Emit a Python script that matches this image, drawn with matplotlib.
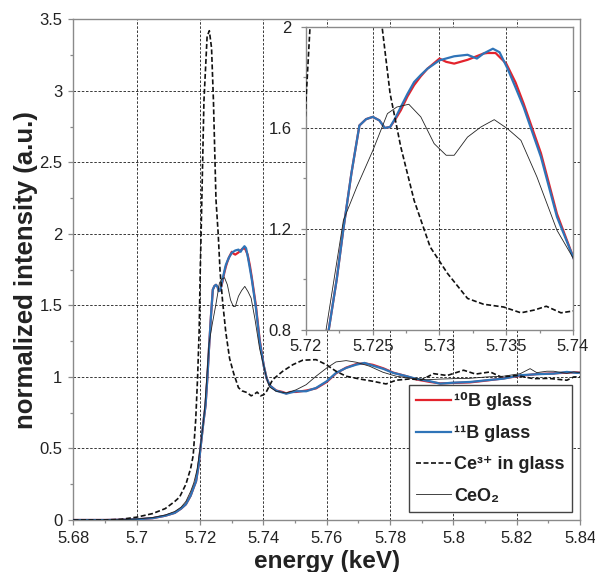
import matplotlib
matplotlib.use("Agg")
import matplotlib.pyplot as plt
from matplotlib.ticker import MultipleLocator

plt.rcParams['font.family'] = ['Liberation Sans', 'DejaVu Sans']

# ---------------- data ----------------
e_11b = [5.680, 5.690, 5.695, 5.700, 5.705, 5.709, 5.712, 5.714, 5.7155, 5.717, 5.718, 5.7187,
         5.7195, 5.7202, 5.721, 5.7217, 5.7223, 5.7228, 5.7234, 5.7240, 5.7245, 5.7250, 5.7255,
         5.7259, 5.7263, 5.7267, 5.7271, 5.7276, 5.7281, 5.7286, 5.7291, 5.7300, 5.7311, 5.7321,
         5.7328, 5.7333, 5.7340, 5.7345, 5.7351, 5.7357, 5.7363, 5.7376, 5.7388, 5.7401, 5.7410,
         5.7420, 5.7440, 5.7472, 5.7503, 5.7535, 5.7566, 5.7600, 5.7629, 5.7661, 5.7693, 5.7719,
         5.7745, 5.7779, 5.7810, 5.7852, 5.7884, 5.7926, 5.7958, 5.8000, 5.8053, 5.8105, 5.8158,
         5.8211, 5.8263, 5.8316, 5.8358, 5.8390, 5.8400]
i_11b = [0.0, 0.0, 0.002, 0.005, 0.013, 0.03, 0.05, 0.08, 0.11, 0.17, 0.23, 0.27,
         0.38, 0.52, 0.68, 0.80, 1.0, 1.20, 1.42, 1.61, 1.635, 1.644, 1.63,
         1.60, 1.604, 1.64, 1.683, 1.735, 1.782, 1.81, 1.835, 1.868, 1.884, 1.89,
         1.875, 1.895, 1.914, 1.90, 1.835, 1.76, 1.683, 1.485, 1.248, 1.077, 0.99,
         0.94, 0.904, 0.883, 0.90, 0.90, 0.923, 0.97, 1.028, 1.063, 1.086, 1.098,
         1.079, 1.056, 1.028, 1.005, 0.986, 0.97, 0.953, 0.96, 0.965, 0.977, 0.988,
         1.012, 1.019, 1.023, 1.035, 1.028, 1.03]

e_10b = [5.680, 5.690, 5.695, 5.700, 5.705, 5.709, 5.712, 5.714, 5.7155, 5.717, 5.718, 5.7187,
         5.7195, 5.7202, 5.721, 5.7217, 5.7223, 5.7228, 5.7234, 5.7240, 5.7245, 5.7250, 5.7255,
         5.7259, 5.7263, 5.7267, 5.7271, 5.7276, 5.7281, 5.7286, 5.7291, 5.7300, 5.7305, 5.7311,
         5.7321, 5.7333, 5.7336, 5.7342, 5.7350, 5.7357, 5.7363, 5.7376, 5.7388, 5.7401, 5.7410,
         5.7420, 5.7440, 5.7460, 5.7472, 5.7485, 5.7503, 5.7535, 5.7566, 5.7600, 5.7629, 5.7661,
         5.7693, 5.7719, 5.7745, 5.7779, 5.7810, 5.7852, 5.7884, 5.7926, 5.7958, 5.8000, 5.8053,
         5.8105, 5.8158, 5.8211, 5.8263, 5.8316, 5.8358, 5.8390, 5.8400]
i_10b = [0.0, 0.0, 0.002, 0.005, 0.013, 0.03, 0.05, 0.08, 0.11, 0.17, 0.23, 0.27,
         0.38, 0.52, 0.68, 0.80, 1.0, 1.20, 1.42, 1.61, 1.635, 1.644, 1.63,
         1.60, 1.604, 1.635, 1.67, 1.725, 1.77, 1.805, 1.835, 1.875, 1.862, 1.855,
         1.87, 1.895, 1.897, 1.897, 1.855, 1.78, 1.697, 1.50, 1.26, 1.077, 0.99,
         0.94, 0.905, 0.895, 0.885, 0.895, 0.895, 0.905, 0.92, 0.965, 1.025, 1.065,
         1.09, 1.095, 1.085, 1.06, 1.03, 1.005, 0.982, 0.965, 0.955, 0.958, 0.962,
         0.975, 0.99, 1.008, 1.02, 1.025, 1.03, 1.032, 1.03]

e_ce3 = [5.680, 5.690, 5.695, 5.700, 5.705, 5.709, 5.712, 5.7135, 5.7155, 5.717, 5.7178, 5.7186,
         5.7192, 5.7197, 5.7200, 5.7203, 5.7212, 5.7222, 5.7229, 5.7236, 5.7242, 5.7250, 5.7257,
         5.7263, 5.7271, 5.7281, 5.7293, 5.7306, 5.7321, 5.7333, 5.7348, 5.7361, 5.7371, 5.7380,
         5.7391, 5.7401, 5.7410, 5.7429, 5.7461, 5.7493, 5.7524, 5.7566, 5.7598, 5.7629, 5.7661,
         5.7703, 5.7745, 5.7787, 5.7819, 5.7861, 5.7900, 5.7937, 5.7980, 5.8032, 5.8070, 5.8116,
         5.8150, 5.8200, 5.8253, 5.8300, 5.8358, 5.8380, 5.8400]
i_ce3 = [0.0, 0.0, 0.005, 0.02, 0.045, 0.08, 0.13, 0.16, 0.25, 0.36, 0.45, 0.70,
         1.0, 1.33, 1.71, 2.0, 2.93, 3.38, 3.42, 3.30, 2.93, 2.24, 2.0,
         1.736, 1.525, 1.313, 1.129, 1.024, 0.925, 0.902, 0.891, 0.868, 0.879, 0.894,
         0.868, 0.876, 0.90, 0.981, 1.04, 1.086, 1.117, 1.121, 1.086, 1.04, 1.005,
         0.986, 0.97, 0.951, 0.977, 0.986, 0.98, 1.023, 1.01, 1.047, 1.02, 1.035,
         1.0, 1.01, 0.988, 0.99, 0.977, 1.0, 1.0]

e_ceo2 = [5.680, 5.690, 5.695, 5.700, 5.705, 5.709, 5.712, 5.714, 5.7155, 5.717, 5.718, 5.719,
          5.720, 5.721, 5.7215, 5.7228, 5.7238, 5.7250, 5.7261, 5.7268, 5.7277, 5.7286, 5.7296,
          5.7305, 5.7311, 5.7321, 5.7331, 5.7341, 5.7351, 5.7361, 5.7373, 5.7388, 5.7401, 5.7410,
          5.7419, 5.7440, 5.7472, 5.7503, 5.7535, 5.7566, 5.7600, 5.7629, 5.7661, 5.7693, 5.7735,
          5.7777, 5.7819, 5.7861, 5.7914, 5.7958, 5.8000, 5.8050, 5.8105, 5.8158, 5.8211, 5.8242,
          5.8263, 5.8295, 5.8316, 5.8358, 5.8380, 5.8400]
i_ceo2 = [0.0, 0.0, 0.003, 0.007, 0.017, 0.035, 0.06, 0.09, 0.13, 0.20, 0.26, 0.35,
          0.50, 0.68, 0.80, 1.234, 1.366, 1.51, 1.657, 1.683, 1.694, 1.644, 1.538,
          1.492, 1.492, 1.564, 1.604, 1.633, 1.597, 1.551, 1.406, 1.195, 1.077, 0.99,
          0.93, 0.90, 0.888, 0.91, 0.946, 1.005, 1.063, 1.105, 1.114, 1.103, 1.075,
          1.033, 1.005, 0.993, 0.98, 0.985, 0.988, 0.99, 1.0, 1.005, 1.023, 1.058,
          1.03, 1.04, 1.04, 1.025, 1.035, 1.03]

series_labels = ['¹⁰B glass', '¹¹B glass', 'Ce³⁺ in glass', 'CeO₂']

main_xticks = [5.68, 5.70, 5.72, 5.74, 5.76, 5.78, 5.80, 5.82, 5.84]
main_xticklabels = ['5.68', '5.7', '5.72', '5.74', '5.76', '5.78', '5.8', '5.82', '5.84']
main_yticks = [0, 0.5, 1.0, 1.5, 2.0, 2.5, 3.0, 3.5]
main_yticklabels = ['0', '0.5', '1', '1.5', '2', '2.5', '3', '3.5']
inset_xticks = [5.72, 5.725, 5.73, 5.735, 5.74]
inset_xticklabels = ['5.72', '5.725', '5.73', '5.735', '5.74']
inset_yticks = [0.8, 1.2, 1.6, 2.0]
inset_yticklabels = ['0.8', '1.2', '1.6', '2']

# ---------------- styling ----------------
RED = '#e3232c'
BLUE = '#2f74b8'
SPINE = '#8a8a8a'
TXT = '#222222'
GRID = dict(color='#1a1a1a', linestyle=(0, (3, 2)), linewidth=0.6)

fig = plt.figure(figsize=(5.95, 5.72), dpi=100)
ax = fig.add_axes([0.1235, 0.0909, 0.8515, 0.8754])


def draw(a):
    a.plot(e_10b, i_10b, color=RED, lw=1.6, label=series_labels[0], zorder=3)
    a.plot(e_11b, i_11b, color=BLUE, lw=1.6, label=series_labels[1], zorder=4)
    a.plot(e_ce3, i_ce3, color='#111111', lw=1.2, ls=(0, (3, 1.5)), label=series_labels[2], zorder=5)
    a.plot(e_ceo2, i_ceo2, color='#222222', lw=0.6, label=series_labels[3], zorder=5)


def style(a, xt, xtl, yt, ytl, xminor, yminor, ypad, xpad):
    a.set_xticks(xt)
    a.set_xticklabels(xtl)
    a.set_yticks(yt)
    a.set_yticklabels(ytl)
    a.xaxis.set_minor_locator(MultipleLocator(xminor))
    a.yaxis.set_minor_locator(MultipleLocator(yminor))
    a.grid(True, which='major', **GRID)
    a.set_axisbelow(True)
    for s in a.spines.values():
        s.set_color(SPINE)
        s.set_linewidth(1.0)
    a.tick_params(which='major', direction='out', length=3.5, width=0.9, color=SPINE,
                  labelsize=12, labelcolor=TXT)
    a.tick_params(which='minor', direction='out', length=2.5, width=0.9, color=SPINE)
    a.tick_params(axis='y', which='major', pad=ypad)
    a.tick_params(axis='x', which='major', pad=xpad)


draw(ax)
ax.set_xlim(5.68, 5.84)
ax.set_ylim(0, 3.5)
style(ax, main_xticks, main_xticklabels, main_yticks, main_yticklabels, 0.01, 0.25, 4.5, 4.5)
ax.set_xlabel('energy (keV)', fontsize=17.5, fontweight='bold', color=TXT, labelpad=2.5)
ax.set_ylabel('normalized intensity (a.u.)', fontsize=18.5, fontweight='bold', color=TXT, labelpad=1)

leg = ax.legend(loc='lower right', bbox_to_anchor=(0.984, 0.016), prop=dict(size=13, weight='bold'),
                frameon=True, fancybox=False, framealpha=1, edgecolor='#444444',
                handlelength=1.9, handletextpad=0.2, labelspacing=0.8, borderpad=0.4,
                borderaxespad=0)
leg.get_frame().set_linewidth(1.0)
for t in leg.get_texts():
    t.set_color(TXT)
leg.set_zorder(10)

ins = fig.add_axes([0.5143, 0.4231, 0.4487, 0.5297])
ins.set_facecolor('white')
draw(ins)
ins.set_xlim(5.72, 5.74)
ins.set_ylim(0.8, 2.0)
style(ins, inset_xticks, inset_xticklabels, inset_yticks, inset_yticklabels, 0.0025, 0.2, 7, 3)

fig.savefig('out.png', dpi=100)
